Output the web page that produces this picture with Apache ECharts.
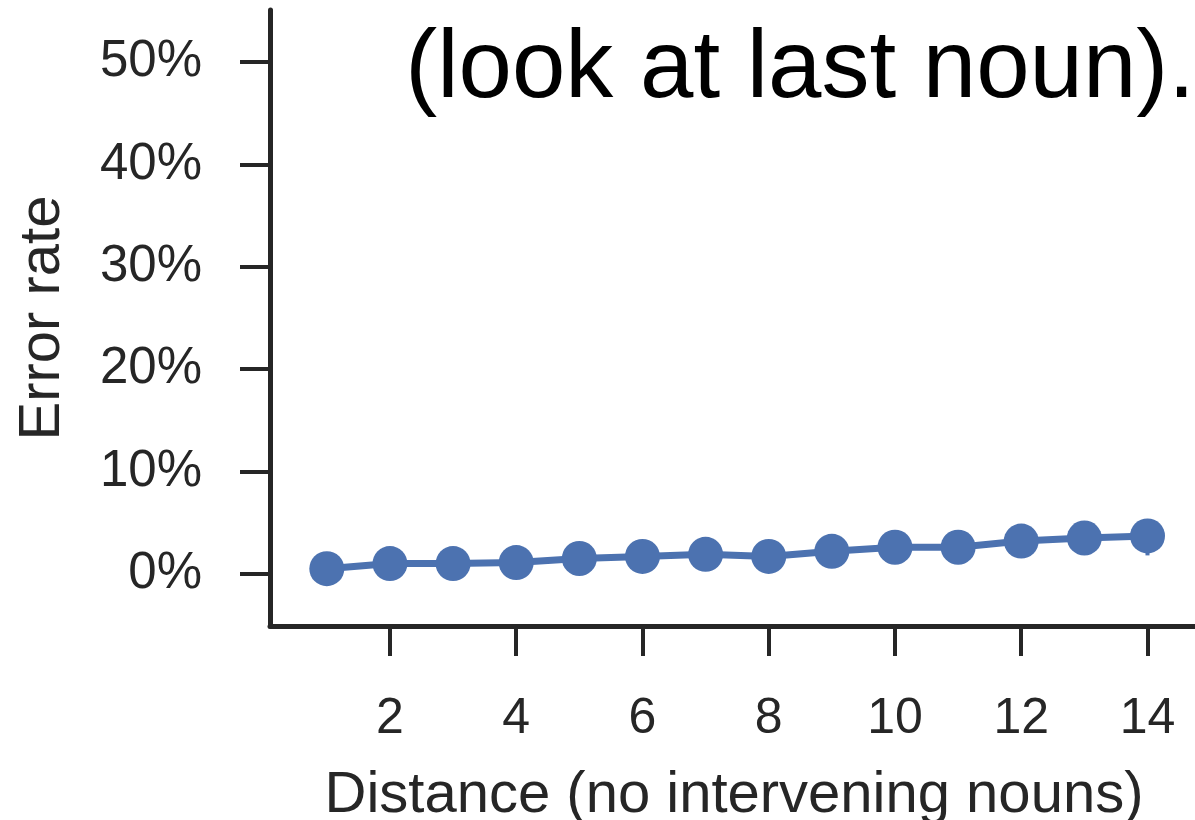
<!DOCTYPE html>
<html>
<head>
<meta charset="utf-8">
<script src="https://cdn.jsdelivr.net/npm/echarts@6/dist/echarts.min.js"></script>
<style>
  html, body { margin: 0; padding: 0; background: #fff; }
  #chart { width: 1195px; height: 820px; }
</style>
</head>
<body>
<div id="chart"></div>
<script>
// Distance between subject and verb (in words), no intervening nouns
const distances = [1, 2, 3, 4, 5, 6, 7, 8, 9, 10, 11, 12, 13, 14];
// Error rate in percent at each distance
const errorRates = [0.5, 1.0, 1.0, 1.1, 1.5, 1.7, 1.9, 1.7, 2.2, 2.6, 2.6, 3.2, 3.5, 3.7];
// Confidence interval bounds (percent) at each distance
const ciLow = [0.0, 0.4, 0.4, 0.5, 0.9, 1.0, 1.2, 0.9, 1.3, 1.6, 1.5, 1.9, 2.0, 1.8];
const ciHigh = [1.1, 1.6, 1.6, 1.7, 2.1, 2.4, 2.6, 2.5, 3.1, 3.6, 3.7, 4.5, 5.0, 5.3];
const xTicks = [2, 4, 6, 8, 10, 12, 14];
const yTicks = [0, 10, 20, 30, 40, 50];

const titleText = '(look at last noun).';
const xName = 'Distance (no intervening nouns)';
const yName = 'Error rate';

const ink = '#262626';
const blue = '#4C72B0';

const chart = echarts.init(document.getElementById('chart'), null, { renderer: 'canvas' });

const lineData = distances.map((d, i) => [d, errorRates[i]]);
const errData = distances.map((d, i) => [d, ciLow[i], ciHigh[i]]);

chart.setOption({
  animation: false,
  backgroundColor: '#fff',
  textStyle: { fontFamily: 'Liberation Sans, Arial, sans-serif' },
  grid: { left: 270, right: -3, top: 10, bottom: 194, outerBoundsMode: 'none', containLabel: false },
  xAxis: {
    type: 'value',
    min: 0.1,
    max: 14.8,
    name: xName,
    nameLocation: 'middle',
    nameGap: 141,
    nameTextStyle: { fontSize: 58, color: ink },
    axisLine: { show: true, onZero: false, lineStyle: { color: ink, width: 5 } },
    axisTick: { show: true, customValues: xTicks, length: 30, lineStyle: { color: ink, width: 4 } },
    axisLabel: { customValues: xTicks, fontSize: 50, color: ink, margin: 68 },
    splitLine: { show: false }
  },
  yAxis: {
    type: 'value',
    min: -5.1,
    max: 55.1,
    name: yName,
    nameLocation: 'middle',
    nameGap: 198,
    nameTextStyle: { fontSize: 58, color: ink },
    axisLine: { show: true, onZero: false, lineStyle: { color: ink, width: 5 } },
    axisTick: { show: true, customValues: yTicks, length: 30, lineStyle: { color: ink, width: 4 } },
    axisLabel: { customValues: yTicks, fontSize: 51, color: ink, margin: 68, formatter: '{value}%' },
    splitLine: { show: false }
  },
  series: [
    {
      type: 'custom',
      z: 1,
      data: errData,
      renderItem: function (params, api) {
        const top = api.coord([api.value(0), api.value(2)]);
        const bot = api.coord([api.value(0), api.value(1)]);
        return {
          type: 'line',
          shape: { x1: top[0], y1: top[1], x2: bot[0], y2: bot[1] },
          style: { stroke: blue, lineWidth: 4 }
        };
      }
    },
    {
      type: 'line',
      z: 2,
      data: lineData,
      symbol: 'circle',
      symbolSize: 35,
      lineStyle: { color: blue, width: 7 },
      itemStyle: { color: blue },
      clip: false
    }
  ],
  graphic: [
    {
      type: 'text',
      right: 0,
      top: 23,
      style: {
        text: titleText,
        font: 'normal 96px "Liberation Sans", Arial, sans-serif',
        fill: '#000'
      }
    }
  ]
});
</script>
</body>
</html>
